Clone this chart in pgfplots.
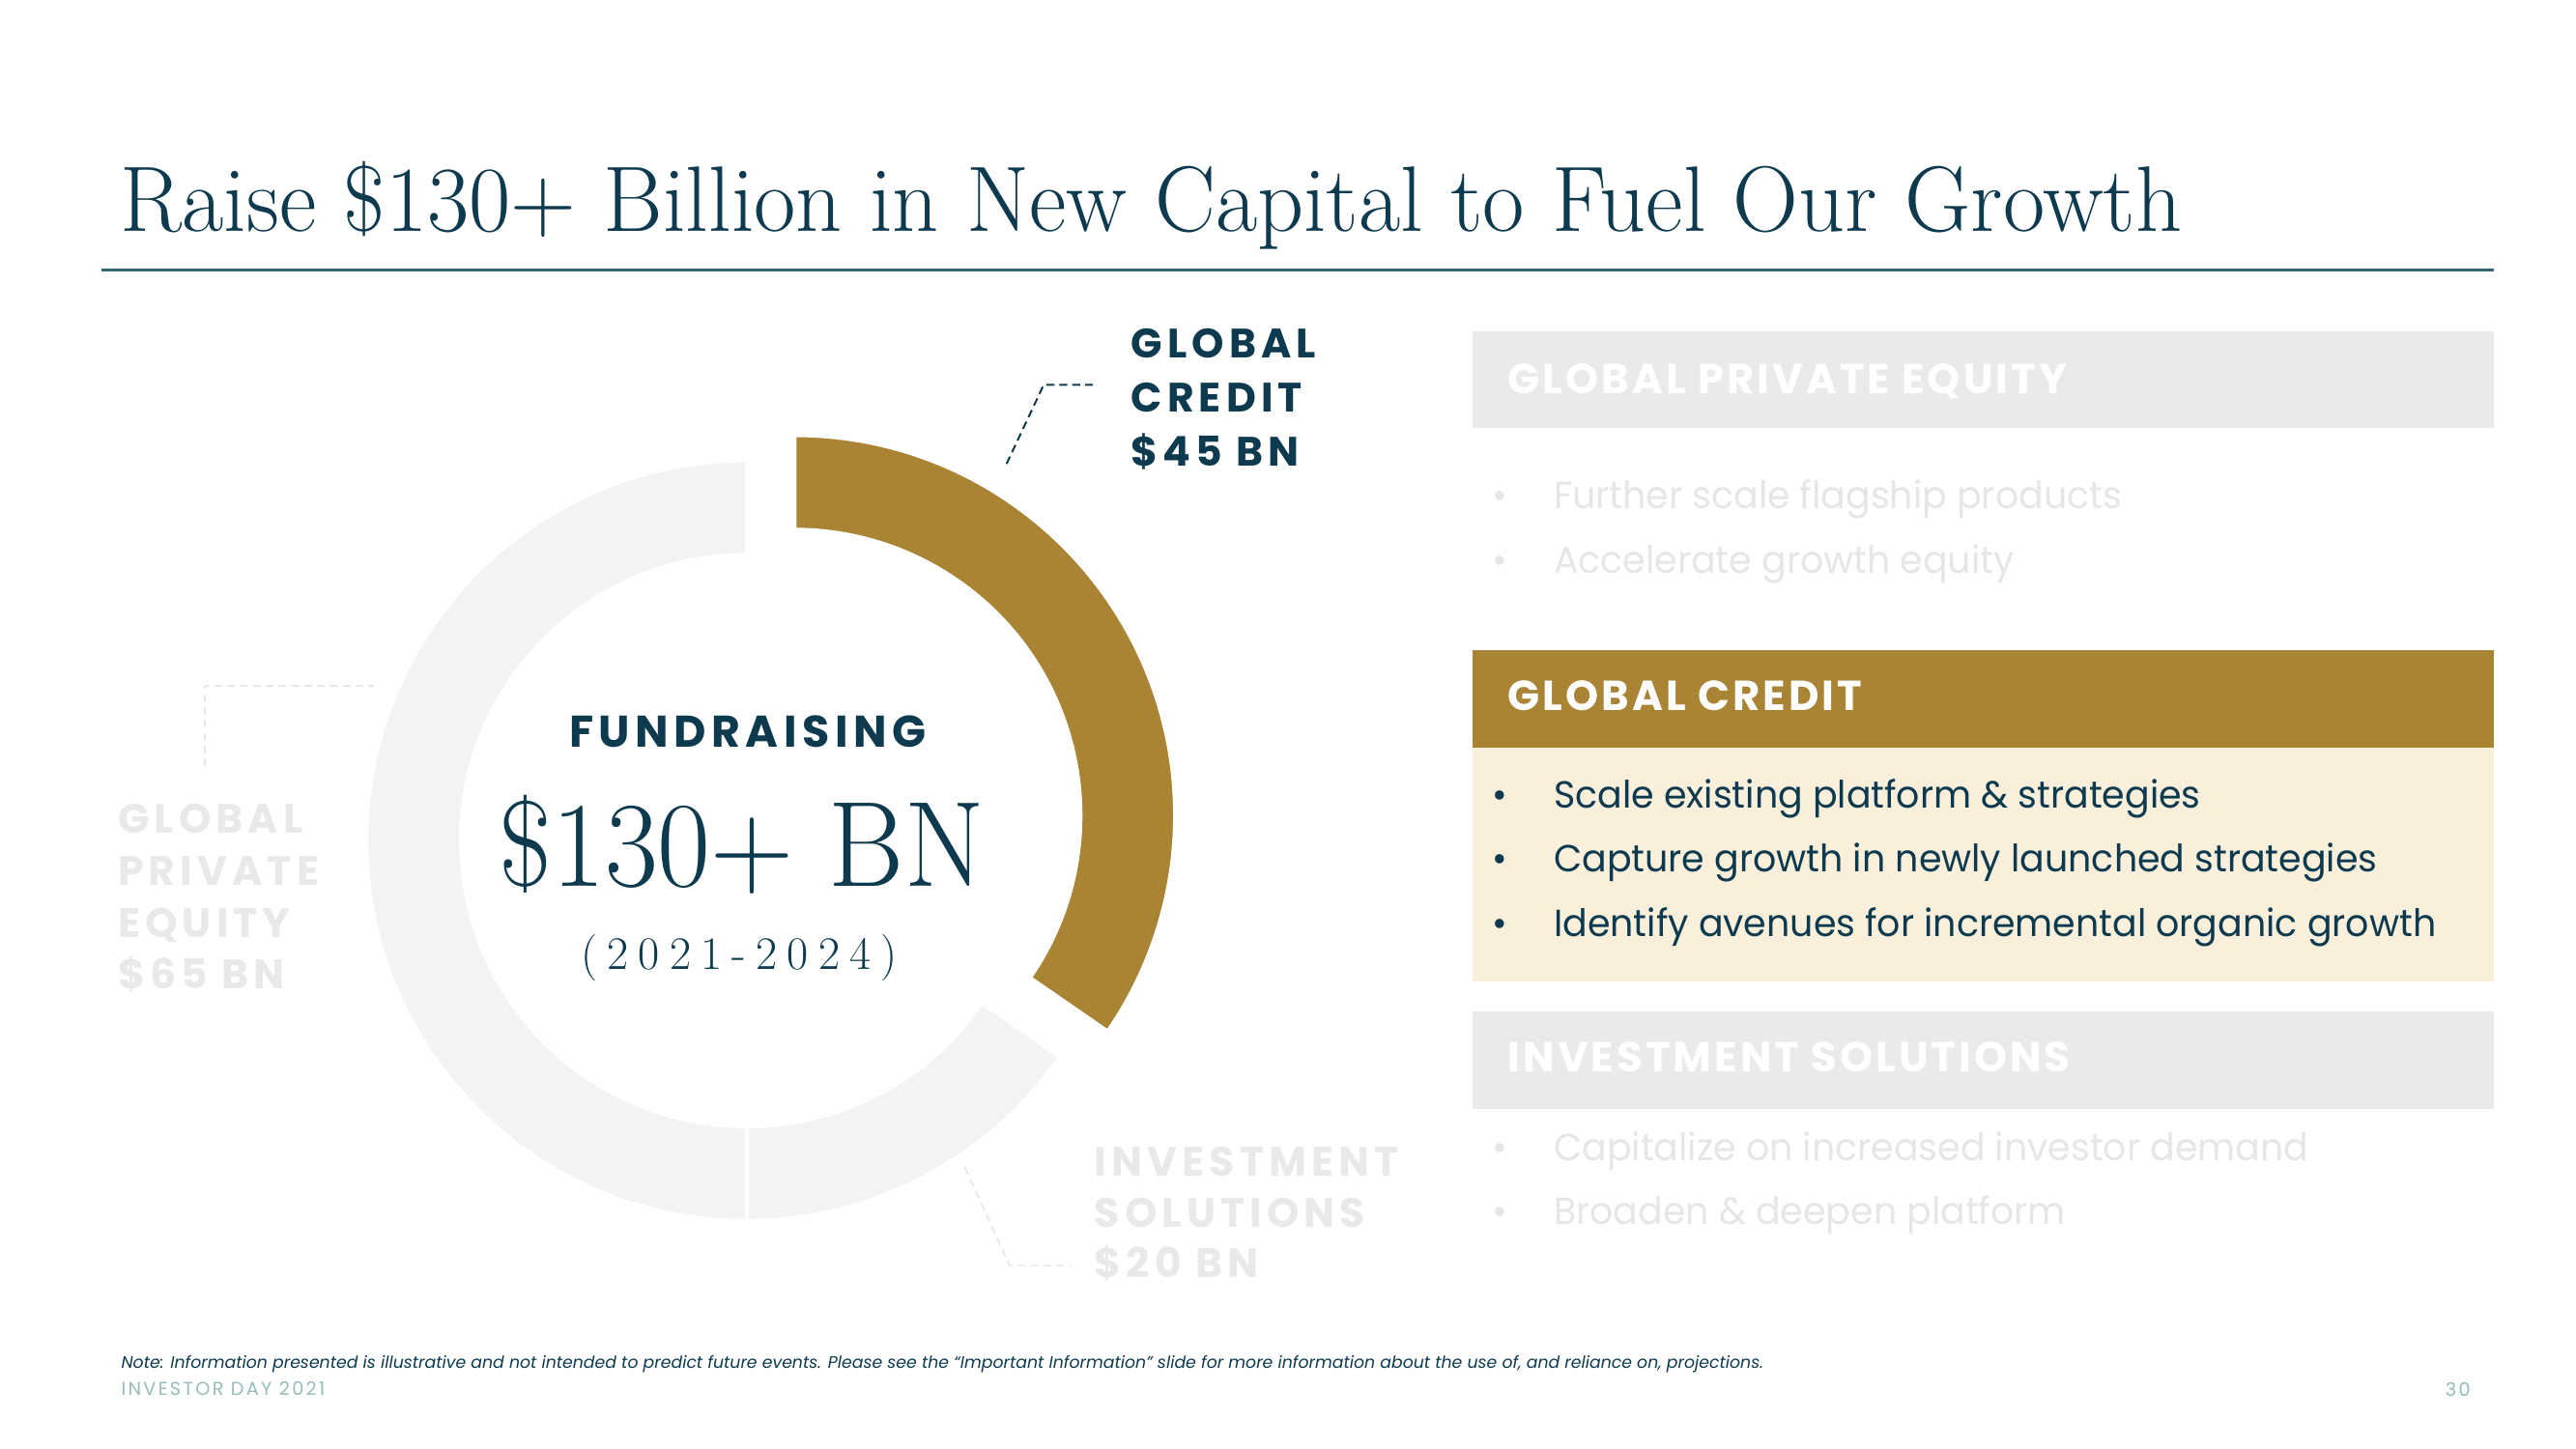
\documentclass[border=0pt]{standalone}
\usepackage{pgfplots}
\pgfplotsset{compat=1.18}
\usepackage{pgfplotstable}
\usepackage{fontspec}
\usepackage{graphicx}
\usetikzlibrary{calc}
\newfontfamily\pop{Poppins}
\newfontfamily\popL[LetterSpace=12]{Poppins}
\newfontfamily\popC[LetterSpace=12]{Poppins}
\newfontfamily\popN[FakeStretch=0.97]{Poppins}
\newfontfamily\popH[LetterSpace=7]{Poppins}
\newfontfamily\popF[LetterSpace=12]{Poppins}
\definecolor{navy}{HTML}{0D3A4F}
\definecolor{rulec}{HTML}{2E6672}
\definecolor{gold}{HTML}{A98434}
\definecolor{slicegray}{HTML}{F3F3F3}
\definecolor{labgray}{HTML}{E9E9E9}
\definecolor{boxgray}{HTML}{EAEAEA}
\definecolor{cream}{HTML}{F9EFDB}
\definecolor{bulgray}{HTML}{E6E6E6}
\definecolor{foot}{HTML}{96BBBC}

\pgfplotstableread{
seg value
PE 65
GC 45
IS 20
}\shares
\pgfplotstablegetelem{0}{value}\of\shares \let\vPE\pgfplotsretval
\pgfplotstablegetelem{1}{value}\of\shares \let\vGC\pgfplotsretval
\pgfplotstablegetelem{2}{value}\of\shares \let\vIS\pgfplotsretval
\pgfmathsetmacro\tot{\vPE+\vGC+\vIS}
\pgfmathsetmacro\aA{90}
\pgfmathsetmacro\aB{90-360/\tot*\vGC}
\pgfmathsetmacro\aC{\aB-360/\tot*\vIS}
\pgfmathsetmacro\aD{\aC-360/\tot*\vPE}
\pgfmathsetmacro\aMid{(\aA+\aB)/2}
\def\cx{454.5}
\def\cy{511.8}
\pgfmathsetmacro\gx{\cx+33*cos(\aMid)}
\pgfmathsetmacro\gy{\cy-33*sin(\aMid)}
\def\Ro{138.9pt}
\def\Ri{104.4pt}
\newcommand\slice[5]{%
  \fill[#1, draw=white, line width=1.4pt]
    ($(axis cs:#2,#3)+(#4:\Ro)$) arc[start angle=#4, end angle=#5, radius=\Ro]
    -- ($(axis cs:#2,#3)+(#5:\Ri)$) arc[start angle=#5, end angle=#4, radius=\Ri] -- cycle;}
\newcommand\bul[3]{% y, text, color
  \node[anchor=base, inner sep=0, text=#3] at (axis cs:913,#1) {\popN\fontsize{13.8}{16}\selectfont •};
  \node[anchor=base west, inner sep=0, text=#3] at (axis cs:945.5,#1) {\popN\fontsize{13.8}{16}\selectfont #2};}
\newcommand\lab[4]{% x, y, text, color
  \node[anchor=base west, inner sep=0, text=#4] at (axis cs:#1,#2) {\popL\bfseries\fontsize{15}{18}\selectfont #3};}
\newcommand\dd{\kern3.6pt}
\begin{document}
\begin{tikzpicture}
\begin{axis}[x=0.6pt, y=0.6pt, y dir=reverse, xmin=0, xmax=1568, ymin=0, ymax=882,
  hide axis, clip=false, scale only axis]
\fill[white] (axis cs:0,0) rectangle (axis cs:1568,882);
% title
\node[anchor=base west, inner sep=0, text=navy] at (axis cs:73,140.6)
  {\scalebox{0.977}[1]{\fontsize{34}{40}\selectfont Raise \$130+ Billion in New Capital to Fuel Our Growth}};
\draw[rulec, line width=1.2pt] (axis cs:62,164.5) -- (axis cs:1518,164.5);
% donut
\slice{slicegray}{\cx}{\cy}{\aC}{\aD}
\slice{slicegray}{\cx}{\cy}{\aB}{\aC}
\slice{gold}{\gx}{\gy}{\aA}{\aB}
% centre
\node[anchor=base, inner sep=0, text=navy] at (axis cs:455,454.9)
  {\popC\bfseries\fontsize{16.2}{18}\selectfont FUNDRAISING};
\node[anchor=base, inner sep=0, text=navy] at (axis cs:451.5,539.5)
  {\scalebox{0.95}[1]{\fontsize{44.4}{50}\selectfont \$130+ BN}};
\node[anchor=base, inner sep=0, text=navy] at (axis cs:450,590)
  {\fontsize{17}{19}\selectfont (\dd2\dd0\dd2\dd1\dd-\dd2\dd0\dd2\dd4\dd)};
% labels
\lab{688.2}{218}{GLOBAL}{navy}
\lab{688.2}{251}{CREDIT}{navy}
\lab{688.2}{284}{\$45 BN}{navy}
\draw[navy, line width=0.7pt, dash pattern=on 2.9pt off 1.8pt] (axis cs:612.7,282.4) -- (axis cs:635.3,234.3) -- (axis cs:666.7,234.3);
\lab{71.6}{507.5}{GLOBAL}{labgray}
\lab{71.6}{539.2}{PRIVATE}{labgray}
\lab{71.6}{570.6}{EQUITY}{labgray}
\lab{71.6}{602}{\$65 BN}{labgray}
\draw[labgray, line width=0.7pt, dash pattern=on 2.9pt off 1.8pt] (axis cs:124.5,466.6) -- (axis cs:124.5,417.6) -- (axis cs:227.5,417.6);
\lab{666}{716}{INVESTMENT}{labgray}
\lab{666}{747}{SOLUTIONS}{labgray}
\lab{666}{778}{\$20 BN}{labgray}
\draw[labgray, line width=0.7pt, dash pattern=on 2.9pt off 1.8pt] (axis cs:587.3,710.8) -- (axis cs:614.7,770.6) -- (axis cs:652,770.6);
% right panel
\fill[boxgray] (axis cs:896.5,201.9) rectangle (axis cs:1518,260.8);
\node[anchor=base west, inner sep=0, text=white] at (axis cs:917.6,239.4)
  {\popH\bfseries\fontsize{15.3}{18}\selectfont GLOBAL PRIVATE EQUITY};
\bul{309.8}{Further scale flagship products}{bulgray}
\bul{349}{Accelerate growth equity}{bulgray}
\fill[gold] (axis cs:896.5,396) rectangle (axis cs:1518,455);
\fill[cream] (axis cs:896.5,455) rectangle (axis cs:1518,597.5);
\node[anchor=base west, inner sep=0, text=white] at (axis cs:917.6,432.3)
  {\popH\bfseries\fontsize{15.3}{18}\selectfont GLOBAL CREDIT};
\bul{492}{Scale existing platform \& strategies}{navy}
\bul{531}{Capture growth in newly launched strategies}{navy}
\bul{570}{Identify avenues for incremental organic growth}{navy}
\fill[boxgray] (axis cs:896.5,615.7) rectangle (axis cs:1518,675);
\node[anchor=base west, inner sep=0, text=white] at (axis cs:917.6,652.4)
  {\popH\bfseries\fontsize{15.3}{18}\selectfont INVESTMENT SOLUTIONS};
\bul{706.9}{Capitalize on increased investor demand}{bulgray}
\bul{745.7}{Broaden \& deepen platform}{bulgray}
% footer
\node[anchor=base west, inner sep=0, text=navy] at (axis cs:73.5,833.3)
  {\pop\itshape\fontsize{6.1}{7}\selectfont Note: Information presented is illustrative and not intended to predict future events. Please see the “Important Information” slide for more information about the use of, and reliance on, projections.};
\node[anchor=base west, inner sep=0, text=foot] at (axis cs:73.5,849.6)
  {\popF\fontsize{6.8}{8}\selectfont INVESTOR DAY 2021};
\node[anchor=base east, inner sep=0, text=foot] at (axis cs:1504,850)
  {\popF\fontsize{6.8}{8}\selectfont 30};
\end{axis}
\end{tikzpicture}
\end{document}
